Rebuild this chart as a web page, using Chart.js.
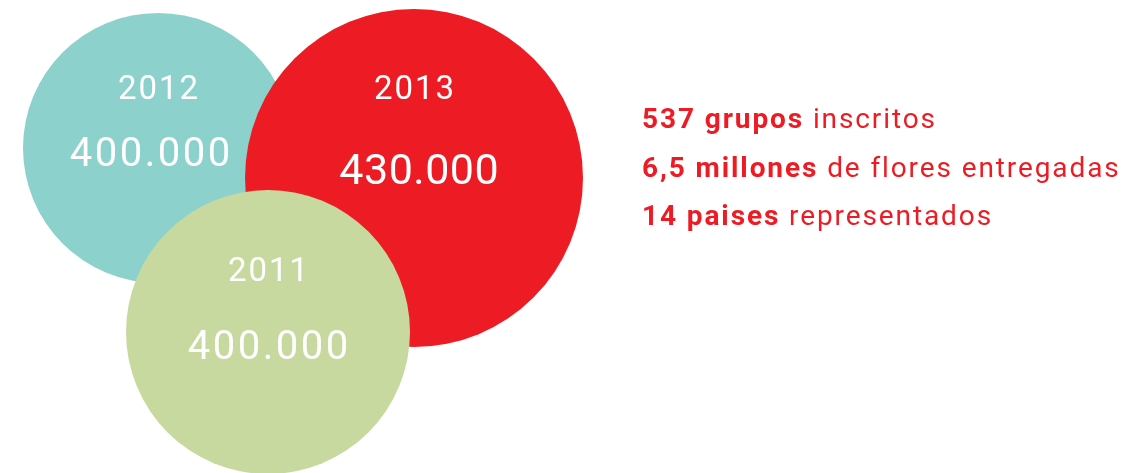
<!DOCTYPE html>
<html>
<head>
<meta charset="utf-8">
<script src="https://cdn.jsdelivr.net/npm/chart.js@4"></script>
<style>
    html, body { margin: 0; padding: 0; background: #ffffff; }
    #wrap { position: relative; width: 1128px; height: 473px; overflow: hidden; }
    #facts {
        position: absolute; left: 642px; top: 95px;
        font-family: Roboto, sans-serif; font-size: 28px; line-height: 48.5px;
        letter-spacing: 1.9px;
        color: #ed1c24; white-space: nowrap;
    }
    #facts b { font-weight: 700; }
</style>
</head>
<body>
<div id="wrap">
    <canvas id="bubbles"></canvas>
    <div id="facts"></div>
</div>
<script>
// Bubble data (drawn in this order: 2012, 2013, 2011)
const years = ['2012', '2013', '2011'];
const values = [400000, 430000, 400000];
const bubbleX = [158, 414, 268];
const bubbleY = [148, 178, 332];
const bubbleR = [135, 169, 142];

// Side facts
const factNumbers = ['537 grupos', '6,5 millones', '14 paises'];
const factTexts = ['inscritos', 'de flores entregadas', 'representados'];

const colors = ['#8dd1cc', '#ed1c24', '#c8d9a0'];

// label placement relative to bubble centre (px)
const yearOffset = [-57, -87, -59];
const valueOffset = [8, -5, 17];
const valueShiftX = [-8, 5, 0];
const valueFont = [40, 43, 40];
const valueSpacing = [2.5, 0.5, 2.5];

function formatValue(v) {
    return v.toString().replace(/\B(?=(\d{3})+(?!\d))/g, '.');
}

const bubbleLabels = {
    id: 'bubbleLabels',
    afterDatasetsDraw(chart) {
        const ctx = chart.ctx;
        const meta = chart.getDatasetMeta(0);
        ctx.save();
        ctx.fillStyle = '#ffffff';
        ctx.textAlign = 'center';
        ctx.textBaseline = 'middle';
        meta.data.forEach((el, i) => {
            ctx.font = '400 33px Roboto';
            ctx.letterSpacing = '2px';
            ctx.fillText(years[i], el.x + 1, el.y + yearOffset[i]);
            ctx.font = '400 ' + valueFont[i] + 'px Roboto';
            ctx.letterSpacing = valueSpacing[i] + 'px';
            ctx.fillText(formatValue(values[i]),
                el.x + valueShiftX[i] + valueSpacing[i] / 2, el.y + valueOffset[i]);
        });
        ctx.restore();
    }
};

document.getElementById('facts').innerHTML = factNumbers
    .map((n, i) => '<div><b>' + n + '</b> ' + factTexts[i] + '</div>')
    .join('');

new Chart(document.getElementById('bubbles'), {
    type: 'bubble',
    data: {
        datasets: [{
            data: years.map((y, i) => ({ x: bubbleX[i], y: bubbleY[i], r: bubbleR[i] })),
            backgroundColor: colors,
            borderWidth: 0,
            hoverRadius: 0,
            clip: false
        }]
    },
    options: {
        responsive: true,
        maintainAspectRatio: false,
        animation: false,
        events: [],
        layout: { padding: 0, autoPadding: false },
        plugins: {
            legend: { display: false },
            tooltip: { enabled: false }
        },
        scales: {
            x: { type: 'linear', min: 0, max: 1128, display: false },
            y: { type: 'linear', min: 0, max: 473, reverse: true, display: false }
        }
    },
    plugins: [bubbleLabels]
});
</script>
</body>
</html>
